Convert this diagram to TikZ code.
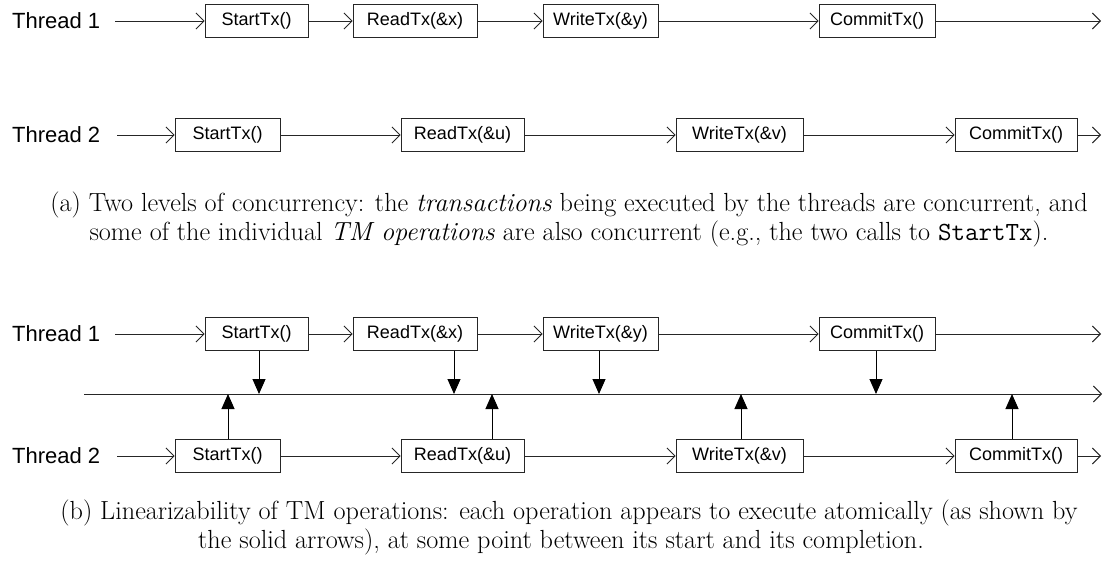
\documentclass[tikz,border=0pt]{standalone}
\usepackage{fontspec}
\newfontfamily\arialfont{Liberation Sans}
\usetikzlibrary{arrows.meta}
\begin{document}
\begin{tikzpicture}[x=1pt,y=-1pt,
  line/.style={draw=black!85,line width=0.9pt},
  flow/.style={line,-{Straight Barb[length=8pt,width=16pt]}},
  lin/.style={draw=black,line width=1pt,-{Triangle[length=15pt,width=13pt]}},
  opbox/.style={draw=black!85,line width=0.9pt,minimum height=33pt,inner sep=0pt,font=\arialfont\fontsize{18}{20}\selectfont},
  thread/.style={anchor=west,inner sep=0pt,font=\arialfont\fontsize{22}{24}\selectfont},
  caption/.style={anchor=base,inner sep=0pt,font=\fontsize{26.2}{29}\selectfont}]
\useasboundingbox (0,0) rectangle (1111,565);

% ---------- panel (a) ----------
\node[thread] (ta1) at (12,21) {Thread 1};
\coordinate (ta1s) at (115,21);
\node[opbox,minimum width=103pt] (a1s) at (256.5,21) {StartTx()};
\node[opbox,minimum width=124pt] (a1r) at (415,21) {ReadTx(\&x)};
\node[opbox,minimum width=115pt] (a1w) at (600.5,21) {WriteTx(\&y)};
\node[opbox,minimum width=116pt] (a1c) at (877,21) {CommitTx()};
\coordinate (ta1e) at (1101,21);
\draw[flow] (ta1s) -- (a1s);
\draw[flow] (a1s) -- (a1r);
\draw[flow] (a1r) -- (a1w);
\draw[flow] (a1w) -- (a1c);
\draw[flow] (a1c) -- (ta1e);

\node[thread] (ta2) at (12,135) {Thread 2};
\coordinate (ta2s) at (117,135);
\node[opbox,minimum width=105pt] (a2s) at (227.5,135) {StartTx()};
\node[opbox,minimum width=123pt] (a2r) at (462.5,135) {ReadTx(\&u)};
\node[opbox,minimum width=127pt] (a2w) at (739.5,135) {WriteTx(\&v)};
\node[opbox,minimum width=122pt] (a2c) at (1016,135) {CommitTx()};
\coordinate (ta2e) at (1101,135);
\draw[flow] (ta2s) -- (a2s);
\draw[flow] (a2s) -- (a2r);
\draw[flow] (a2r) -- (a2w);
\draw[flow] (a2w) -- (a2c);
\draw[flow] (a2c) -- (ta2e);

\node[caption] (capa1) at (569,211) {(a) Two levels of concurrency: the \textit{transactions} being executed by the threads are concurrent, and};
\node[caption] (capa2) at (569,240) {some of the individual \textit{TM operations} are also concurrent (e.g., the two calls to \texttt{StartTx}).};

% ---------- panel (b) ----------
\node[thread] (tb1) at (12,334) {Thread 1};
\coordinate (tb1s) at (115,334);
\node[opbox,minimum width=103pt] (b1s) at (256.5,334) {StartTx()};
\node[opbox,minimum width=124pt] (b1r) at (415,334) {ReadTx(\&x)};
\node[opbox,minimum width=115pt] (b1w) at (600.5,334) {WriteTx(\&y)};
\node[opbox,minimum width=116pt] (b1c) at (877,334) {CommitTx()};
\coordinate (tb1e) at (1101,334);
\draw[flow] (tb1s) -- (b1s);
\draw[flow] (b1s) -- (b1r);
\draw[flow] (b1r) -- (b1w);
\draw[flow] (b1w) -- (b1c);
\draw[flow] (b1c) -- (tb1e);

\node[thread] (tb2) at (12,456) {Thread 2};
\coordinate (tb2s) at (117,456);
\node[opbox,minimum width=105pt] (b2s) at (227.5,456) {StartTx()};
\node[opbox,minimum width=123pt] (b2r) at (462.5,456) {ReadTx(\&u)};
\node[opbox,minimum width=127pt] (b2w) at (739.5,456) {WriteTx(\&v)};
\node[opbox,minimum width=122pt] (b2c) at (1016,456) {CommitTx()};
\coordinate (tb2e) at (1101,456);
\draw[flow] (tb2s) -- (b2s);
\draw[flow] (b2s) -- (b2r);
\draw[flow] (b2r) -- (b2w);
\draw[flow] (b2w) -- (b2c);
\draw[flow] (b2c) -- (tb2e);

% middle (linearization) time line
\coordinate (ms) at (84,394);
\coordinate (me) at (1102,394);
\draw[flow] (ms) -- (me);

\coordinate (p1) at (259,394);
\coordinate (p2) at (454,394);
\coordinate (p3) at (599,394);
\coordinate (p4) at (876,394);
\coordinate (q1) at (228,394);
\coordinate (q2) at (492,394);
\coordinate (q3) at (741,394);
\coordinate (q4) at (1012,394);
\draw[lin] (b1s.south -| p1) -- (p1);
\draw[lin] (b1r.south -| p2) -- (p2);
\draw[lin] (b1w.south -| p3) -- (p3);
\draw[lin] (b1c.south -| p4) -- (p4);
\draw[lin] (b2s.north -| q1) -- (q1);
\draw[lin] (b2r.north -| q2) -- (q2);
\draw[lin] (b2w.north -| q3) -- (q3);
\draw[lin] (b2c.north -| q4) -- (q4);

\node[caption] (capb1) at (569,519) {(b) Linearizability of TM operations: each operation appears to execute atomically (as shown by};
\node[caption] (capb2) at (561,548) {the solid arrows), at some point between its start and its completion.};
\end{tikzpicture}
\end{document}
